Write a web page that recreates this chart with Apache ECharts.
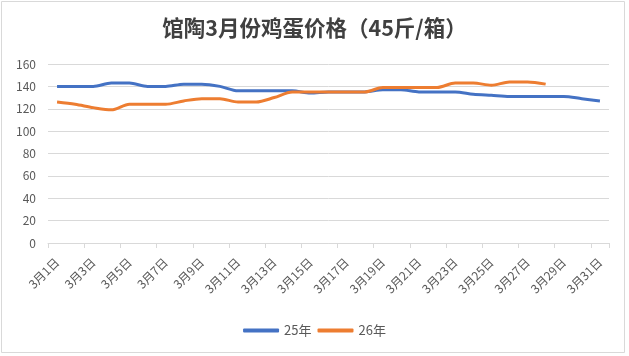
<!DOCTYPE html>
<html><head><meta charset="utf-8">
<script src="https://cdn.jsdelivr.net/npm/echarts@6/dist/echarts.min.js"></script>
<style>html,body{margin:0;padding:0;background:#fff}#c{width:629px;height:356px}</style>
</head><body><div id="c"></div>
<script>
const categories = ["3月1日","3月2日","3月3日","3月4日","3月5日","3月6日","3月7日","3月8日","3月9日","3月10日","3月11日","3月12日","3月13日","3月14日","3月15日","3月16日","3月17日","3月18日","3月19日","3月20日","3月21日","3月22日","3月23日","3月24日","3月25日","3月26日","3月27日","3月28日","3月29日","3月30日","3月31日"];
const s25 = [140,140,140,143,143,140,140,142,142,140,136,136,136,136,134,135,135,135,137,137,135,135,135,133,132,131,131,131,131,129,127];
const s26 = [126,124,121,119,124,124,124,127,129,129,126,126,130,135,135,135,135,135,139,139,139,139,143,143,141,144,144,142];
const yTicks = {min:0, max:160, interval:20};
const chart = echarts.init(document.getElementById('c'));
const font = '"Noto Sans CJK SC", "Noto Sans", sans-serif';
chart.setOption({
  animation:false,
  graphic:[{type:'rect',shape:{x:1.5,y:1.5,width:623,height:351},style:{fill:'none',stroke:'#d9d9d9',lineWidth:1}}],
  title:{text:'馆陶3月份鸡蛋价格（45斤/箱）',left:'center',top:12,textStyle:{fontFamily:font,fontSize:21.5,fontWeight:'bold',color:'#404040'}},
  legend:{bottom:14,left:'center',itemWidth:36,itemHeight:4,itemGap:6,icon:'roundRect',textStyle:{fontFamily:font,fontSize:13,color:'#595959'},data:['25年','26年']},
  grid:{left:48,right:20,top:64,bottom:113,containLabel:false},
  xAxis:{type:'category',data:categories,boundaryGap:true,
    axisLine:{lineStyle:{color:'#d9d9d9'}},
    axisTick:{show:true,interval:1,length:5,lineStyle:{color:'#d9d9d9'}},
    axisLabel:{interval:1,rotate:45,margin:17,fontFamily:font,fontSize:12,color:'#595959'}},
  yAxis:{type:'value',min:yTicks.min,max:yTicks.max,interval:yTicks.interval,
    axisLine:{show:false},axisTick:{show:false},
    splitLine:{lineStyle:{color:'#d9d9d9'}},
    axisLabel:{fontFamily:font,fontSize:12,color:'#595959',margin:12}},
  series:[
    {name:'25年',type:'line',data:s25,showSymbol:false,symbol:'none',smooth:0.3,lineStyle:{color:'#4472C4',width:3},itemStyle:{color:'#4472C4'}},
    {name:'26年',type:'line',data:s26,showSymbol:false,symbol:'none',smooth:0.3,lineStyle:{color:'#ED7D31',width:3},itemStyle:{color:'#ED7D31'}}
  ]
});
</script></body></html>
